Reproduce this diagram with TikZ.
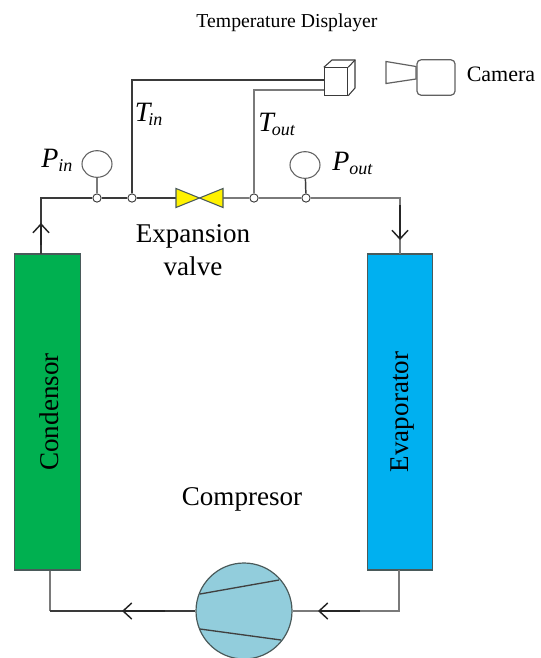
\documentclass[tikz,border=0pt]{standalone}
\usepackage{fontspec}
\setmainfont{Liberation Serif}
\usetikzlibrary{arrows.meta,shapes.geometric}
\definecolor{pipedark}{HTML}{3A3A3A}
\definecolor{pipegray}{HTML}{7A7A7A}
\definecolor{edgegray}{HTML}{4A5A5A}
\tikzset{
  pipe/.style={draw=pipedark,line width=1.1pt},
  pipeg/.style={draw=pipegray,line width=1.2pt},
  flow/.style={draw=black!85,line width=1.3pt,-{Straight Barb[length=6.5pt,width=12pt,line width=1.1pt]}},
  port/.style={circle,draw=pipedark,fill=white,line width=.7pt,minimum size=6.2pt,inner sep=0pt},
  gauge/.style={ellipse,draw=pipedark!80,fill=white,line width=.8pt,minimum width=22.5pt,minimum height=20pt,inner sep=0pt},
  exch/.style={draw=edgegray,line width=.9pt,inner sep=0pt,minimum width=49pt,minimum height=237pt},
  big/.style={font=\fontsize{20.3}{24}\selectfont,inner sep=0pt},
  small/.style={font=\fontsize{14.8}{18}\selectfont,inner sep=0pt},
  sym/.style={font=\fontsize{21}{24}\selectfont\itshape,inner sep=0pt,anchor=base west},
  device/.style={draw=pipedark,line width=.8pt},
}
\newcommand{\lbl}[3]{#1\kern#3\raisebox{-3pt}{\fontsize{13.5}{16}\selectfont #2}}
\begin{document}
\begin{tikzpicture}[x=.75pt,y=-.75pt]
\useasboundingbox (0,0) rectangle (540,658);
\clip (0,0) rectangle (540,658);
% heat exchangers
\node[exch,fill={rgb,255:red,0;green,176;blue,80}] (cond) at (47.5,412) {};
\node[exch,fill={rgb,255:red,0;green,176;blue,240}] (evap) at (400,412) {};
\node[big,rotate=90] at (49.5,412) {Condensor};
\node[big,rotate=90] at (402.5,412) {Evaporator};
% points on pipes
\coordinate (cup) at (41,198);
\coordinate (eup) at (400,198);
\coordinate (cout) at (41,254);
\coordinate (ein) at (400,254);
\coordinate (cdn) at (50,570);
\coordinate (edn) at (399,570);
\coordinate (ccor) at (50,611);
\coordinate (ecor) at (399,611);
\node[port] (pin) at (97,198) {};
\node[port] (tin) at (132,198) {};
\node[port] (tout) at (254,198) {};
\node[port] (pout) at (306,198) {};
\node[gauge] (gin) at (97,164) {};
\node[gauge] (gout) at (305,165) {};
\coordinate (vl) at (176,198);
\coordinate (vc) at (199.5,198);
\coordinate (vr) at (223,198);
% compressor
\node[circle,draw=edgegray,fill={rgb,255:red,146;green,205;blue,220},line width=.9pt,minimum size=72pt,inner sep=0pt] (comp) at (244,611) {};
\draw[draw=black!75,line width=1pt] (200,594) -- (279,580);
\draw[draw=black!75,line width=1pt] (200,629) -- (281,640);
% pipes
\draw[pipe] (cout) -- (cup) -- (pin) -- (tin) -- (vl);
\draw[pipeg] (vr) -- (tout) -- (pout) -- (eup) -- (ein);
\draw[pipeg] (cond.south -| cdn) -- (ccor);
\draw[pipe] (ccor) -- (comp.west);
\draw[pipeg] (edn) -- (ecor) -- (comp.east);
\draw[pipeg] (gin) -- (pin);
\draw[pipe] (gout) -- (pout);
% valve
\draw[draw=edgegray,line width=.8pt,fill=yellow] (176,188.5) -- (vc) -- (176,207.5) -- cycle;
\draw[draw=edgegray,line width=.8pt,fill=yellow] (223,188.5) -- (vc) -- (223,207.5) -- cycle;
% flow arrows
\coordinate (a1s) at (41,245); \coordinate (a1e) at (41,223);
\coordinate (a2s) at (400,205); \coordinate (a2e) at (400,240);
\coordinate (a3s) at (165,611); \coordinate (a3e) at (122,611);
\coordinate (a4s) at (360,611); \coordinate (a4e) at (318,611);
\draw[flow] (a1s) -- (a1e);
\draw[flow] (a2s) -- (a2e);
\draw[flow] (a3s) -- (a3e);
\draw[flow] (a4s) -- (a4e);
% displayer
\node[device,fill=white,minimum width=17.5pt,minimum height=20.5pt,inner sep=0pt] (disp) at (336,81.5) {};
\draw[device] (disp.north west) -- (332,60) -- (355,60) -- (355,88) -- (disp.south east);
\draw[device] (disp.north east) -- (355,60);
\draw[pipe] (tin) -- (132,80) -- (disp.west |- 0,80);
\draw[pipeg] (tout) -- (254,90) -- (disp.west |- 0,90);
% camera
\node[draw=pipedark!80,line width=.9pt,rounded corners=3pt,minimum width=28.5pt,minimum height=26.5pt,inner sep=0pt] (cam) at (436,77.5) {};
\draw[draw=pipedark!80,line width=.9pt] (386,61.5) -- (416,66.5) -- (416,79) -- (386,83.5) -- cycle;
% text
\node[small] (tt) at (287,22.5) {Temperature Displayer};
\node[font=\fontsize{16.5}{20}\selectfont,inner sep=0pt] (camt) at (501,74.5) {Camera};
\node[big] (ev1) at (193,236) {Expansion};
\node[big] (ev2) at (193,266) {valve};
\node[big] (cp) at (242,499) {Compresor};
\node[sym] (l1) at (134.5,121) {\lbl{T}{in}{-1.5pt}};
\node[sym] (l2) at (258,131) {\lbl{T}{out}{-1.5pt}};
\node[sym] (l3) at (41,167) {\lbl{P}{in}{0pt}};
\node[sym] (l4) at (332,170) {\lbl{P}{out}{0pt}};
\end{tikzpicture}
\end{document}
